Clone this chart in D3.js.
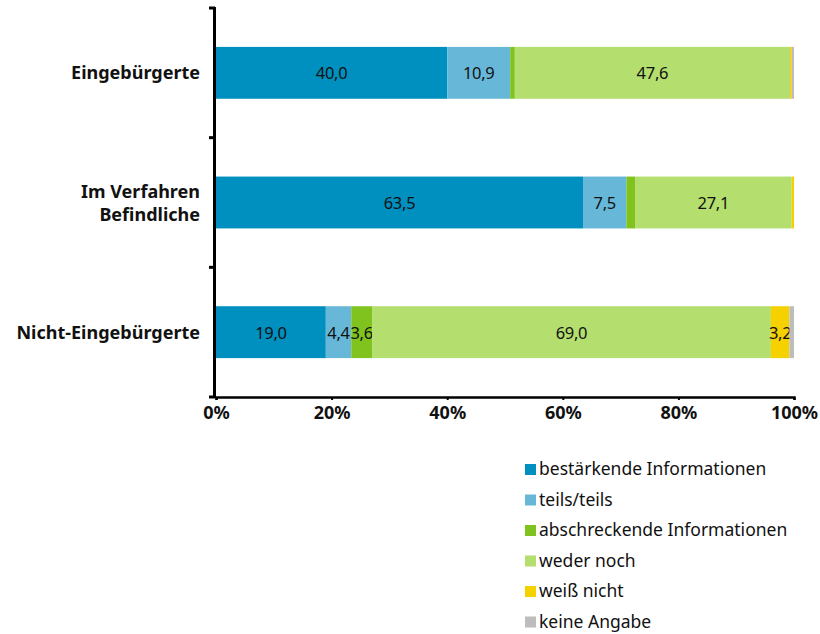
<!DOCTYPE html>
<html><head><meta charset="utf-8">
<script src="https://cdn.jsdelivr.net/npm/d3@7"></script>
<style>body{margin:0;background:#fff;} svg{display:block;font-family:"Noto Sans","Open Sans",sans-serif;}</style>
</head><body><svg id="c" width="820" height="634"></svg>
<script>
const categories = ["Eingebürgerte", "Im Verfahren Befindliche", "Nicht-Eingebürgerte"];
const seriesNames = ["bestärkende Informationen", "teils/teils", "abschreckende Informationen", "weder noch", "weiß nicht", "keine Angabe"];
const colors = ["#0090BF", "#67B8D8", "#80C31E", "#B4DE6E", "#F6D100", "#BDBDBD"];
const bestaerkend = [40.0, 63.5, 19.0];
const teilsTeils = [10.9, 7.5, 4.4];
const abschreckend = [0.8, 1.5, 3.6];
const wederNoch = [47.6, 27.1, 69.0];
const weissNicht = [0.3, 0.4, 3.2];
const keineAngabe = [0.4, 0.0, 0.8];
const xTicks = [0, 20, 40, 60, 80, 100];

const seriesVals = [bestaerkend, teilsTeils, abschreckend, wederNoch, weissNicht, keineAngabe];
const data = categories.map((c, i) => {
  const o = {cat: c};
  seriesNames.forEach((s, j) => o[s] = seriesVals[j][i]);
  return o;
});
const stack = d3.stack().keys(seriesNames)(data);

const svg = d3.select("#c");
const x = d3.scaleLinear().domain([0, 100]).range([216, 794]);
const y = d3.scaleBand().domain(categories).range([8, 397]).paddingInner(0.6).paddingOuter(0.3);

// bars
const g = svg.append("g");
stack.forEach((layer, j) => {
  g.selectAll(null).data(layer).enter().append("rect")
    .attr("x", d => x(d[0]))
    .attr("y", d => y(d.data.cat))
    .attr("width", d => x(d[1]) - x(d[0]))
    .attr("height", y.bandwidth())
    .attr("fill", colors[j]);
  g.selectAll(null).data(layer.filter(d => d[1] - d[0] >= 3)).enter().append("text")
    .attr("x", d => x((d[0] + d[1]) / 2))
    .attr("y", d => y(d.data.cat) + y.bandwidth() / 2 + 6.5)
    .attr("text-anchor", "middle")
    .attr("font-size", 16.5)
    .attr("letter-spacing", -0.3)
    .attr("fill", "#111")
    .text(d => d3.format(".1f")(d[1] - d[0]).replace(".", ","));
});

// y axis
const step = y.step();
const bounds = [8, 8 + step, 8 + 2 * step, 397];
svg.append("line").attr("x1", 214.5).attr("x2", 214.5).attr("y1", 7).attr("y2", 398)
  .attr("stroke", "#000").attr("stroke-width", 3);
svg.selectAll(null).data(bounds).enter().append("line")
  .attr("x1", 209).attr("x2", 215).attr("y1", d => d).attr("y2", d => d)
  .attr("stroke", "#000").attr("stroke-width", 3);

// x axis
const xAxis = svg.append("g").attr("transform", "translate(0,397)")
  .call(d3.axisBottom(x).tickValues(xTicks).tickSize(3).tickFormat(d => d + "%"));
xAxis.select(".domain").attr("stroke", "#000").attr("stroke-width", 2.5);
xAxis.selectAll(".tick line").attr("stroke", "#000").attr("stroke-width", 2);
xAxis.selectAll(".tick text").attr("font-size", 18).attr("font-weight", "bold")
  .attr("fill", "#111").attr("dy", "0.95em").attr("y", 5).attr("font-family", "\"Noto Sans\",sans-serif");

// category labels
const labelLines = {"Eingebürgerte": ["Eingebürgerte"], "Im Verfahren Befindliche": ["Im Verfahren", "Befindliche"], "Nicht-Eingebürgerte": ["Nicht-Eingebürgerte"]};
categories.forEach(c => {
  const lines = labelLines[c];
  const cy = y(c) + y.bandwidth() / 2;
  const t = svg.append("text").attr("text-anchor", "end").attr("font-size", 18)
    .attr("font-weight", "bold").attr("fill", "#111");
  lines.forEach((l, i) => {
    t.append("tspan").attr("x", 200)
      .attr("y", cy + 6.5 + (i - (lines.length - 1) / 2) * 23).text(l);
  });
});

// legend
const lg = svg.append("g");
seriesNames.forEach((s, i) => {
  const ly = 469 + i * 30.5;
  lg.append("rect").attr("x", 525).attr("y", ly - 5).attr("width", 11).attr("height", 11).attr("fill", colors[i]);
  lg.append("text").attr("x", 539).attr("y", ly + 6).attr("font-size", 17.5).attr("fill", "#111").text(s);
});
</script></body></html>
